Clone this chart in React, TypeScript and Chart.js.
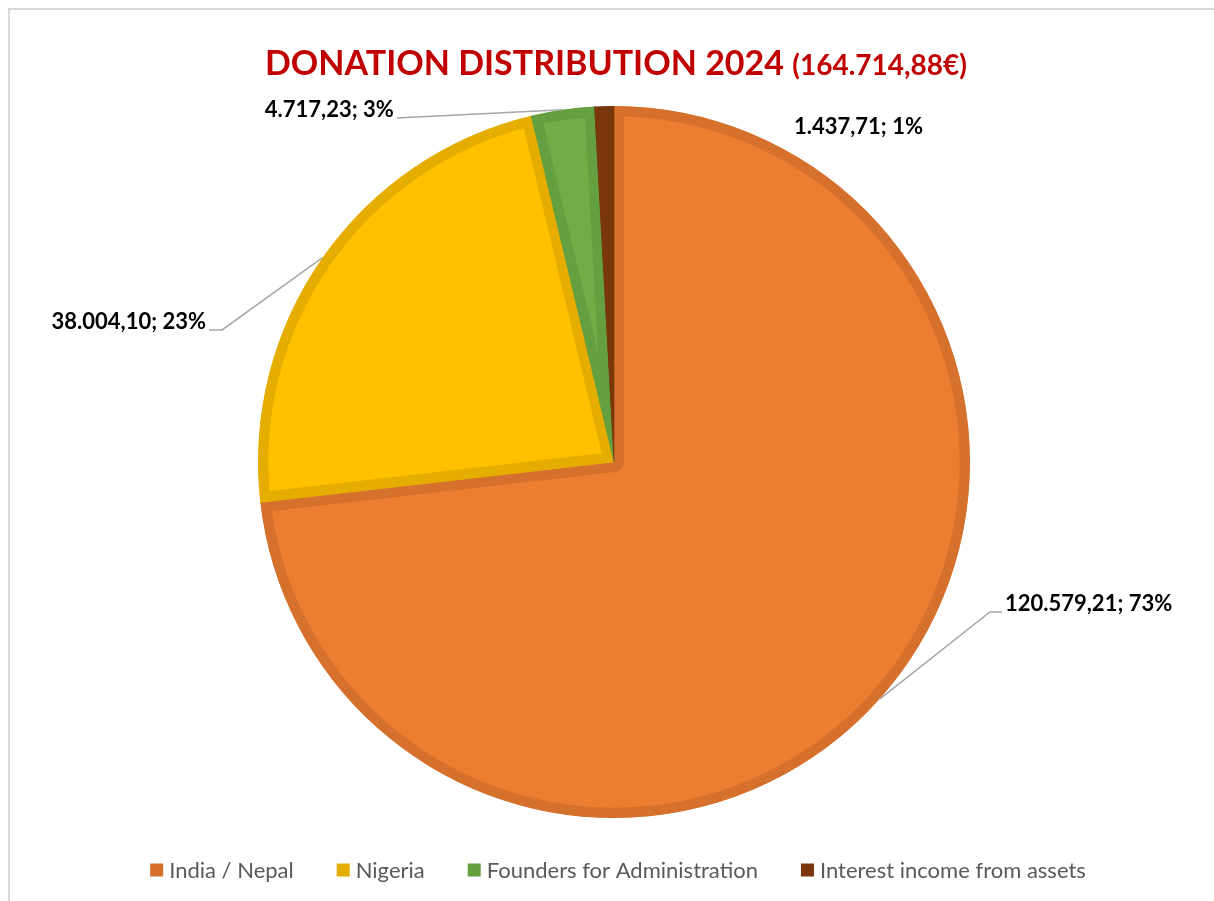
import React, { useEffect, useRef } from "react";
import { Chart, registerables } from "chart.js";

Chart.register(...registerables);

// ---------- data ----------
const CATEGORIES = [
  "India / Nepal",
  "Nigeria",
  "Founders for Administration",
  "Interest income from assets",
];
const VALUES = [120579.21, 38004.1, 4717.23, 1437.71];
const TITLE_MAIN = "DONATION DISTRIBUTION 2024";
const TITLE_TOTAL = "(164.714,88€)";

// ---------- style ----------
const FILL = ["#ED7D31", "#FFC000", "#70AD47", "#843C0C"];
const EDGE = ["#D5712D", "#E5AD00", "#64A03F", "#7A370B"];
const FONT = "Lato, 'Open Sans', sans-serif";

// label placement relative to pie centre, in radius units
const LABEL_POS = [
  { ex: 1.056, ey: 0.421, side: 1, tail: 12, line: true },
  { ex: -1.101, ey: -0.371, side: -1, tail: 13, line: true },
  { ex: -0.61, ey: -0.966, side: -1, tail: 0, line: true },
  { ex: 0.497, ey: -0.918, side: 1, tail: 0, line: false },
];

function fmtDE(v: number): string {
  const [i, d] = v.toFixed(2).split(".");
  const grouped = i.replace(/\B(?=(\d{3})+(?!\d))/g, ".");
  return grouped + "," + d;
}

const overlayPlugin = {
  id: "overlay",
  afterDraw(chart: any) {
    const ctx: CanvasRenderingContext2D = chart.ctx;
    const W = chart.width;
    const H = chart.height;
    ctx.save();

    // chart frame
    ctx.strokeStyle = "#D9D9D9";
    ctx.lineWidth = 2;
    ctx.beginPath();
    ctx.moveTo(9, H + 2);
    ctx.lineTo(9, 9);
    ctx.lineTo(W + 2, 9);
    ctx.stroke();

    // title
    ctx.textBaseline = "alphabetic";
    ctx.fillStyle = "#C00000";
    const f1 = `bold 34px ${FONT}`;
    const f2 = `bold 28px ${FONT}`;
    ctx.font = f1;
    const w1 = ctx.measureText(TITLE_MAIN + " ").width;
    ctx.font = f2;
    const w2 = ctx.measureText(TITLE_TOTAL).width;
    const tx = 616 - (w1 + w2) / 2;
    ctx.font = f1;
    ctx.textAlign = "left";
    ctx.fillText(TITLE_MAIN + " ", tx, 75);
    ctx.font = f2;
    ctx.fillText(TITLE_TOTAL, tx + w1, 75);

    // data labels
    const meta = chart.getDatasetMeta(0);
    const data: number[] = chart.data.datasets[0].data;
    const total = data.reduce((a, b) => a + b, 0);
    meta.data.forEach((arc: any, i: number) => {
      const p = arc.getProps(["x", "y", "startAngle", "endAngle", "outerRadius"], true);
      const mid = (p.startAngle + p.endAngle) / 2;
      const R = p.outerRadius;
      const ax = p.x + Math.cos(mid) * R;
      const ay = p.y + Math.sin(mid) * R;
      const L = LABEL_POS[i];
      const exx = p.x + L.ex * R;
      const eyy = p.y + L.ey * R;
      const endx = exx + L.side * L.tail;
      if (L.line) {
        ctx.strokeStyle = "#A6A6A6";
        ctx.lineWidth = 1.5;
        ctx.beginPath();
        ctx.moveTo(ax, ay);
        ctx.lineTo(exx, eyy);
        ctx.lineTo(endx, eyy);
        ctx.stroke();
      }
      const txt = `${fmtDE(data[i])}; ${Math.round((data[i] / total) * 100)}%`;
      ctx.font = `bold 22px ${FONT}`;
      ctx.fillStyle = "#000000";
      ctx.textBaseline = "middle";
      ctx.textAlign = L.side > 0 ? "left" : "right";
      ctx.fillText(txt, endx + L.side * 3, eyy - 8);
    });

    // legend
    const labels: string[] = chart.data.labels;
    ctx.font = `22px ${FONT}`;
    const box = 13;
    const gapBox = 6;
    const gapItem = 43;
    const widths = labels.map((l) => box + gapBox + ctx.measureText(l).width);
    const totalW = widths.reduce((a, b) => a + b, 0) + gapItem * (labels.length - 1);
    let x = 618 - totalW / 2;
    const ly = 870;
    labels.forEach((l, i) => {
      ctx.fillStyle = EDGE[i];
      ctx.fillRect(x, ly - box / 2, box, box);
      ctx.fillStyle = "#595959";
      ctx.textAlign = "left";
      ctx.textBaseline = "middle";
      ctx.fillText(l, x + box + gapBox, ly + 1);
      x += widths[i] + gapItem;
    });

    ctx.restore();
  },
};

export default function App() {
  const ref = useRef<HTMLCanvasElement | null>(null);
  useEffect(() => {
    document.body.style.margin = "0";
    const canvas = ref.current!;
    const chart = new Chart(canvas, {
      type: "pie",
      data: {
        labels: CATEGORIES,
        datasets: [
          {
            data: VALUES,
            backgroundColor: FILL,
            borderColor: EDGE,
            borderWidth: 10,
            borderAlign: "inner",
            hoverOffset: 0,
          } as any,
        ],
      },
      options: {
        animation: false,
        responsive: false,
        devicePixelRatio: 1,
        events: [],
        layout: { padding: { top: 106, bottom: 83, left: 258, right: 244 } },
        plugins: {
          legend: { display: false },
          title: { display: false },
          tooltip: { enabled: false },
        },
      },
      plugins: [overlayPlugin],
    });
    return () => chart.destroy();
  }, []);
  return (
    <div style={{ width: 1214, height: 901, background: "#fff" }}>
      <canvas ref={ref} width={1214} height={901} style={{ display: "block" }} />
    </div>
  );
}
